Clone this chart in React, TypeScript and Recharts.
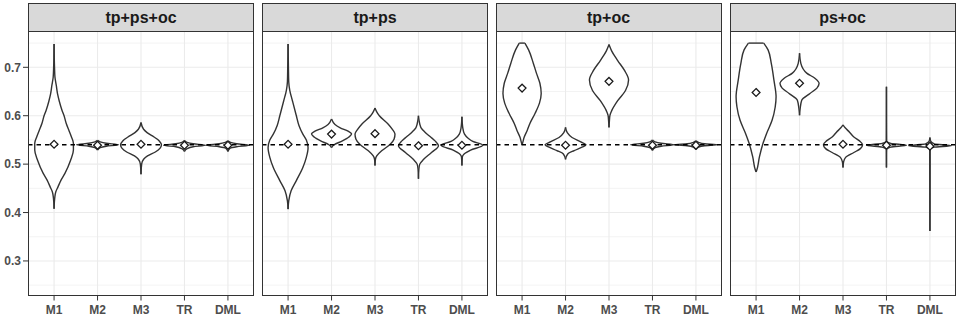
import React from "react";
import { ComposedChart, Area, Scatter, XAxis, YAxis, CartesianGrid } from "recharts";

// categories / facets
const methods = ["M1", "M2", "M3", "TR", "DML"];
const panelTitles = ["tp+ps+oc", "tp+ps", "tp+oc", "ps+oc"];
const yTicks = [0.3, 0.4, 0.5, 0.6, 0.7];
const yMinorTicks = [0.25, 0.35, 0.45, 0.55, 0.65, 0.75];
const refValue = 0.54;

// diamond = mean per method
const meansTpPsOc = [0.541, 0.539, 0.541, 0.539, 0.539];
const meansTpPs = [0.541, 0.562, 0.563, 0.538, 0.539];
const meansTpOc = [0.657, 0.539, 0.671, 0.539, 0.539];
const meansPsOc = [0.648, 0.667, 0.541, 0.539, 0.537];

// violin outlines: [value, half width]
const violinsTpPsOc = [
  [[0.408, 0], [0.43, 0.015], [0.443, 0.04], [0.453, 0.09], [0.467, 0.16], [0.481, 0.25], [0.508, 0.38], [0.529, 0.445], [0.543, 0.445], [0.556, 0.4], [0.57, 0.34], [0.584, 0.28], [0.6, 0.23], [0.612, 0.18], [0.63, 0.12], [0.645, 0.08], [0.663, 0.05], [0.68, 0.02], [0.7, 0.01], [0.748, 0]],
  [[0.529, 0], [0.534, 0.06], [0.537, 0.2], [0.54, 0.48], [0.543, 0.2], [0.546, 0.06], [0.549, 0]],
  [[0.479, 0], [0.5, 0.015], [0.51, 0.06], [0.517, 0.15], [0.525, 0.33], [0.533, 0.44], [0.54, 0.47], [0.548, 0.42], [0.556, 0.3], [0.565, 0.14], [0.572, 0.06], [0.586, 0]],
  [[0.526, 0], [0.532, 0.06], [0.536, 0.2], [0.539, 0.48], [0.542, 0.2], [0.545, 0.06], [0.549, 0]],
  [[0.526, 0], [0.533, 0.05], [0.536, 0.2], [0.539, 0.5], [0.542, 0.2], [0.545, 0.06], [0.548, 0]],
];
const violinsTpPs = [
  [[0.407, 0], [0.424, 0.015], [0.445, 0.07], [0.466, 0.19], [0.493, 0.34], [0.514, 0.42], [0.534, 0.46], [0.55, 0.42], [0.562, 0.34], [0.58, 0.25], [0.6, 0.19], [0.631, 0.1], [0.652, 0.04], [0.67, 0.015], [0.7, 0.008], [0.748, 0]],
  [[0.534, 0], [0.54, 0.06], [0.548, 0.25], [0.556, 0.4], [0.562, 0.46], [0.568, 0.38], [0.575, 0.2], [0.582, 0.08], [0.593, 0]],
  [[0.497, 0], [0.51, 0.01], [0.517, 0.04], [0.528, 0.16], [0.541, 0.35], [0.552, 0.44], [0.562, 0.46], [0.572, 0.4], [0.583, 0.3], [0.6, 0.1], [0.608, 0.04], [0.616, 0]],
  [[0.47, 0], [0.49, 0.01], [0.5, 0.03], [0.51, 0.12], [0.524, 0.3], [0.538, 0.46], [0.548, 0.38], [0.556, 0.28], [0.566, 0.15], [0.575, 0.06], [0.583, 0.03], [0.6, 0]],
  [[0.497, 0], [0.515, 0.01], [0.521, 0.05], [0.529, 0.2], [0.539, 0.48], [0.547, 0.25], [0.553, 0.15], [0.562, 0.06], [0.575, 0.02], [0.598, 0]],
];
const violinsTpOc = [
  [[0.54, 0], [0.543, 0.01], [0.556, 0.05], [0.57, 0.12], [0.584, 0.18], [0.605, 0.3], [0.626, 0.4], [0.646, 0.44], [0.667, 0.41], [0.688, 0.33], [0.708, 0.26], [0.736, 0.15], [0.75, 0.065]],
  [[0.51, 0], [0.521, 0.05], [0.528, 0.2], [0.535, 0.38], [0.54, 0.47], [0.546, 0.35], [0.555, 0.15], [0.565, 0.04], [0.576, 0]],
  [[0.576, 0], [0.59, 0.01], [0.6, 0.02], [0.61, 0.06], [0.631, 0.2], [0.652, 0.38], [0.674, 0.45], [0.693, 0.36], [0.714, 0.2], [0.734, 0.06], [0.747, 0]],
  [[0.528, 0], [0.534, 0.06], [0.537, 0.2], [0.54, 0.5], [0.543, 0.2], [0.546, 0.06], [0.55, 0]],
  [[0.53, 0], [0.535, 0.06], [0.538, 0.2], [0.54, 0.49], [0.542, 0.2], [0.545, 0.06], [0.548, 0]],
];
const violinsPsOc = [
  [[0.484, 0], [0.4875, 0.015], [0.515, 0.077], [0.543, 0.16], [0.563, 0.24], [0.591, 0.37], [0.618, 0.44], [0.639, 0.46], [0.674, 0.41], [0.708, 0.35], [0.736, 0.276], [0.75, 0.176]],
  [[0.601, 0], [0.615, 0.015], [0.632, 0.05], [0.646, 0.24], [0.657, 0.4], [0.667, 0.45], [0.677, 0.36], [0.688, 0.165], [0.708, 0.03], [0.729, 0]],
  [[0.493, 0], [0.505, 0.015], [0.514, 0.06], [0.524, 0.25], [0.532, 0.4], [0.54, 0.45], [0.548, 0.38], [0.556, 0.25], [0.566, 0.15], [0.575, 0.05], [0.581, 0]],
  [[0.493, 0], [0.53, 0.005], [0.535, 0.1], [0.539, 0.46], [0.543, 0.1], [0.548, 0.005], [0.66, 0]],
  [[0.362, 0], [0.53, 0.005], [0.535, 0.1], [0.538, 0.49], [0.542, 0.1], [0.547, 0.02], [0.555, 0]],
];
// trimmed flat tops: [method index, value, half width]
const flatTopsTpOc = [[0, 0.75, 0.065]];
const flatTopsPsOc = [[0, 0.75, 0.176]];

const panelMeans = [meansTpPsOc, meansTpPs, meansTpOc, meansPsOc];
const panelViolins = [violinsTpPsOc, violinsTpPs, violinsTpOc, violinsPsOc];
const panelFlatTops = [[], [], flatTopsTpOc, flatTopsPsOc];

const FONT = '"Liberation Sans", Arial, Helvetica, sans-serif';
const PANEL_W = 226;
const panelLeft = [28, 262, 495.5, 729.5];
const PANEL_TOP = 31;
const PANEL_BOTTOM = 296;
const LINE = "#333333";
const OUTLINE_W = 1.4;

const Diamond = (props: any) => {
  const { cx, cy } = props;
  if (cx == null || cy == null) return <g />;
  const r = 3.9;
  return (
    <path
      d={`M${cx},${cy - r}L${cx + r},${cy}L${cx},${cy + r}L${cx - r},${cy}Z`}
      fill="#ffffff"
      stroke="#1a1a1a"
      strokeWidth={1.3}
    />
  );
};

const NoShape = () => <g />;

function Panel({ idx }: { idx: number }) {
  const showY = idx === 0;
  const yW = showY ? 28 : 0;
  const violins = panelViolins[idx];
  const means = panelMeans[idx];
  const flats = panelFlatTops[idx];
  return (
    <div style={{ position: "absolute", left: panelLeft[idx] - yW, top: 0 }}>
      <ComposedChart
        width={PANEL_W + yW}
        height={319}
        layout="vertical"
        margin={{ top: PANEL_TOP, right: 0, bottom: 0, left: 0 }}
      >
        <CartesianGrid
          stroke="#EBEBEB"
          strokeWidth={0.6}
          vertical={false}
          horizontalValues={yMinorTicks}
        />
        <CartesianGrid
          stroke="#EBEBEB"
          strokeWidth={1.1}
          horizontalValues={yTicks}
          verticalValues={[1, 2, 3, 4, 5]}
        />
        <XAxis
          type="number"
          domain={[0.4, 5.6]}
          ticks={[1, 2, 3, 4, 5]}
          interval={0}
          allowDataOverflow
          tickFormatter={(v: number) => methods[v - 1]}
          tick={{ fill: "#4D4D4D", fontSize: 12, fontWeight: "bold", fontFamily: FONT }}
          tickLine={{ stroke: LINE }}
          tickSize={4.5}
          tickMargin={4.5}
          axisLine={false}
          height={23}
        />
        <YAxis
          type="number"
          dataKey="y"
          reversed
          domain={[0.2276, 0.775]}
          ticks={yTicks}
          interval={0}
          allowDataOverflow
          hide={!showY}
          width={yW}
          tickFormatter={(v: number) => v.toFixed(1)}
          tick={{ fill: "#4D4D4D", fontSize: 12, fontWeight: "bold", fontFamily: FONT }}
          tickLine={{ stroke: LINE }}
          tickSize={5}
          tickMargin={2}
          axisLine={false}
        />
        {violins.map((outline, i) => (
          <Area
            key={"v" + i}
            data={outline.map(([y, w]) => ({ y, r: [i + 1 - w, i + 1 + w] }))}
            dataKey="r"
            type="monotone"
            stroke={LINE}
            strokeWidth={OUTLINE_W}
            fill="#ffffff"
            fillOpacity={1}
            dot={false}
            activeDot={false}
            isAnimationActive={false}
          />
        ))}
        {flats.map(([m, y, w], i) => (
          <Scatter
            key={"f" + i}
            data={[{ x: m + 1 - w, y }, { x: m + 1 + w, y }]}
            dataKey="x"
            shape={NoShape}
            line={{ stroke: LINE, strokeWidth: OUTLINE_W }}
            isAnimationActive={false}
          />
        ))}
        <Scatter
          data={[{ x: 0.4, y: refValue }, { x: 5.6, y: refValue }]}
          dataKey="x"
          shape={NoShape}
          line={{ stroke: "#000000", strokeWidth: 1.3, strokeDasharray: "4.5 4" }}
          isAnimationActive={false}
        />
        <Scatter
          data={means.map((m, i) => ({ x: i + 1, y: m }))}
          dataKey="x"
          shape={Diamond}
          isAnimationActive={false}
        />
      </ComposedChart>
    </div>
  );
}

export default function App() {
  return (
    <div
      style={{
        position: "absolute",
        left: 0,
        top: 0,
        width: 959,
        height: 319,
        background: "#ffffff",
        fontFamily: FONT,
        overflow: "hidden",
      }}
    >
      {panelTitles.map((t, i) => (
        <Panel key={t} idx={i} />
      ))}
      {panelTitles.map((t, i) => (
        <React.Fragment key={"s" + t}>
          <div
            style={{
              position: "absolute",
              left: panelLeft[i],
              top: 3,
              width: PANEL_W,
              height: PANEL_TOP - 3 + 1,
              boxSizing: "border-box",
              background: "#D9D9D9",
              border: `1px solid ${LINE}`,
              display: "flex",
              alignItems: "center",
              justifyContent: "center",
              fontSize: 16,
              fontWeight: "bold",
              color: "#1A1A1A",
            }}
          >
            {t}
          </div>
          <div
            style={{
              position: "absolute",
              left: panelLeft[i],
              top: PANEL_TOP,
              width: PANEL_W,
              height: PANEL_BOTTOM - PANEL_TOP,
              boxSizing: "border-box",
              border: `1px solid ${LINE}`,
              pointerEvents: "none",
            }}
          />
        </React.Fragment>
      ))}
    </div>
  );
}
